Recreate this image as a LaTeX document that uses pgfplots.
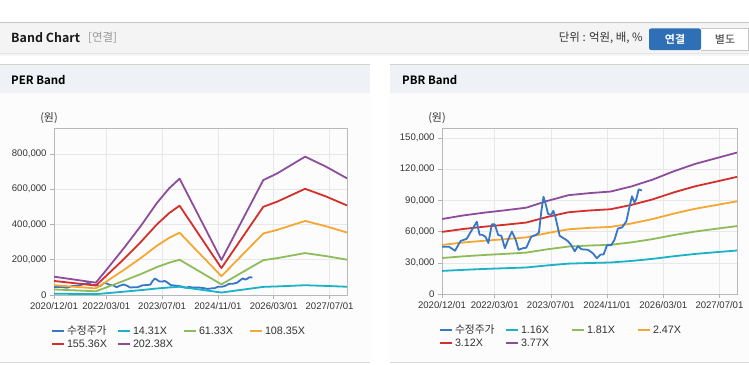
\documentclass[border=0pt]{standalone}
\usepackage{pgfplots}
\usepackage{pgfplotstable}
\pgfplotsset{compat=1.18}
\usepackage{fontspec}
\setmainfont{Liberation Sans}
\newfontfamily\kr[BoldFont={Noto Sans CJK KR Bold}]{Noto Sans CJK KR}

\definecolor{cprice}{RGB}{56,118,200}
\definecolor{ccyan}{RGB}{26,178,198}
\definecolor{cgreen}{RGB}{143,188,90}
\definecolor{corange}{RGB}{245,167,51}
\definecolor{cred}{RGB}{212,47,42}
\definecolor{cpurple}{RGB}{142,77,156}
\definecolor{hdrbg}{RGB}{244,244,244}
\definecolor{panelhdr}{RGB}{238,241,246}
\definecolor{panelbody}{RGB}{252,252,252}
\definecolor{btnblue}{RGB}{47,111,181}
\definecolor{txt}{RGB}{51,51,51}

% PER band (month index from 2020/12)
\pgfplotstableread{
m    p      r      o      g      c
0    104000 79800  55700  31500  7400
12   70000  53700  37500  21200  4900
15   142000 109000 76000  43000  10000
20   265000 203400 141900 80300  18700
25   395000 303200 211500 119700 27900
29.5 522000 400700 279500 158200 36900
33   605000 464500 323900 183300 42800
36   660000 506700 353400 200000 46700
48   199000 152800 106500 60300  14100
60   652000 500500 349100 197600 46100
64   690000 529700 369400 209100 48800
72   785000 602600 420300 237900 55500
78   728000 558900 389800 220600 51500
84   662000 508200 354400 200600 46800
}\perdata

% PBR band
\pgfplotstableread{
m  p      r      o     g     c
0  72100  59700  47200 34600 22200
6  75500  62500  49500 36200 23200
12 78200  64700  51200 37500 24100
18 80500  66600  52700 38600 24800
24 83000  68700  54400 39800 25500
30 89500  74100  58600 43000 27500
36 95000  78600  62200 45600 29200
42 97000  80300  63600 46600 29800
48 98500  81500  64500 47300 30300
54 103500 85700  67800 49700 31800
60 110000 91000  72100 52800 33800
66 118000 97700  77300 56700 36300
72 125000 103500 81900 60000 38500
78 130500 108000 85500 62700 40200
84 136000 112600 89100 65300 41800
}\pbrdata

% adjusted price
\pgfplotstableread{
m    v
0    45500
2    45500
3.7  41600
5.3  51000
7    53000
8.5  61500
9.9  69500
10.7 57000
11.4 57000
12.4 55000
13.2 49000
14.2 67000
15.0 67000
16.0 56700
16.9 56000
17.9 44000
18.8 52000
19.9 60000
21.0 52000
21.8 42500
23   44000
24   44500
25.4 55000
26.8 57000
27.6 59000
28.3 80000
28.9 93500
29.4 88000
30.2 77000
31.1 76000
31.7 80000
32.3 74000
33.5 56000
34.9 53000
35.8 51000
36.8 47000
37.8 41000
38.7 46000
39.7 43000
41.6 42500
43   39000
44.1 34300
45.2 38000
46   38000
47   47000
48.2 47000
49.1 52000
50.1 63000
51.3 64000
52.5 70000
53.4 84000
54.1 94000
54.8 88000
55.3 91000
56   100600
56.9 99500
}\pricedata

\pgfplotsset{
  bandaxis/.style={
    scale only axis, anchor=south west,
    xmin=0, xmax=84, ymin=0,
    xtick={0,15,31,47,63,79},
    xticklabels={2020/12/01,2022/03/01,2023/07/01,2024/11/01,2026/03/01,2027/07/01},
    tick pos=left, tick align=outside, major tick length=4bp,
    tick style={gray!60, line width=0.6bp},
    axis line style={gray!55, line width=0.8bp},
    grid=major, major grid style={gray!18, line width=0.6bp},
    tick label style={font=\fontsize{9.6}{11}\selectfont, text=txt},
    scaled y ticks=false,
    yticklabel style={/pgf/number format/.cd, fixed, 1000 sep={,}, assume math mode=true},
    every axis plot/.append style={line width=1.8bp, line join=round},
    legend columns=4,
    legend style={draw=none, fill=none, inner sep=0pt, outer sep=0pt,
      at={(axis description cs:0,0)}, anchor=north west, xshift=-3bp, yshift=-31bp,
      column sep=0bp, row sep=2.5bp,
      /tikz/every odd column/.append style={column sep=2bp},
      /tikz/every even column/.append style={column sep=2bp},
      font=\fontsize{10.8}{12}\selectfont,
      nodes={inner sep=0pt, text width=48bp, align=left, text height=8bp, text depth=2.5bp, text=txt}},
    legend image code/.code={\draw[#1, line width=2bp] (0bp,0bp) -- (12bp,0bp);},
  }
}

\begin{document}
\begin{tikzpicture}
\begin{scope}[x=1bp,y=1bp]
\useasboundingbox (0,0) rectangle (749,364);
\fill[white] (0,0) rectangle (749,364);
% top header
\fill[hdrbg] (0,364-52.5) rectangle (749,364-22.5);
\draw[gray!45, line width=1bp] (0,364-22.5) -- (749,364-22.5);
\fill[black!10] (0,364-54) rectangle (749,364-52.5);
\fill[black!4] (0,364-56) rectangle (749,364-54);
\node[anchor=west, inner sep=0, font=\kr\bfseries\fontsize{12.5}{14}\selectfont, text=black!90] at (11,364-38) {Band Chart};
\node[anchor=west, inner sep=0, font=\kr\fontsize{11.5}{13}\selectfont, text=gray!80] at (88,364-38) {[연결]};
\node[anchor=east, inner sep=0, font=\kr\fontsize{11.5}{13}\selectfont, text=txt] at (643,364-38) {단위 : 억원, 배, \%};
\fill[white] (701,364-50) rectangle (748.5,364-28.5);
\draw[gray!45, line width=0.8bp] (701,364-50) -- (748.5,364-50) -- (748.5,364-28.5) -- (701,364-28.5);
\fill[btnblue, rounded corners=2bp] (649,364-50) rectangle (701,364-28.5);
\node[font=\kr\bfseries\fontsize{11}{13}\selectfont, text=white] at (675,364-39) {연결};
\node[font=\kr\fontsize{11}{13}\selectfont, text=txt] at (725,364-39) {별도};
% panels
\foreach \xa/\xb in {0/370,390/749}{
  \fill[panelbody] (\xa,364-362.5) rectangle (\xb,364-93);
  \fill[panelhdr] (\xa,364-93) rectangle (\xb,364-64);
  \draw[gray!35, line width=1bp] (\xa,364-64) -- (\xb,364-64);
  \draw[gray!30, line width=1bp] (\xa,364-362.5) -- (\xb,364-362.5);
}
\node[anchor=west, inner sep=0, font=\kr\bfseries\fontsize{11.5}{13}\selectfont] at (11,364-80) {PER Band};
\node[anchor=west, inner sep=0, font=\kr\bfseries\fontsize{11.5}{13}\selectfont] at (402,364-80) {PBR Band};
\node[inner sep=0, font=\kr\fontsize{11}{12}\selectfont, text=txt] at (49,364-118) {(원)};
\node[inner sep=0, font=\kr\fontsize{11}{12}\selectfont, text=txt] at (437,364-118) {(원)};
\end{scope}

% PER axis
\begin{axis}[bandaxis, at={(54bp,69bp)}, width=293bp, height=167bp, ymax=947500,
  ytick={0,200000,400000,600000,800000}]
\addlegendimage{cprice}\addlegendentry{\kr 수정주가}
\addlegendimage{ccyan}\addlegendentry{14.31X}
\addlegendimage{cgreen}\addlegendentry{61.33X}
\addlegendimage{corange}\addlegendentry{108.35X}
\addlegendimage{cred}\addlegendentry{155.36X}
\addlegendimage{cpurple}\addlegendentry{202.38X}
\addplot[cprice, forget plot] table[x=m, y=v] {\pricedata};
\addplot[ccyan, forget plot] table[x=m, y=c] {\perdata};
\addplot[cgreen, forget plot] table[x=m, y=g] {\perdata};
\addplot[corange, forget plot] table[x=m, y=o] {\perdata};
\addplot[cred, forget plot] table[x=m, y=r] {\perdata};
\addplot[cpurple, forget plot] table[x=m, y=p] {\perdata};
\end{axis}

% PBR axis
\begin{axis}[bandaxis, at={(442bp,70bp)}, width=295bp, height=166bp, ymax=159600,
  ytick={0,30000,60000,90000,120000,150000}]
\addlegendimage{cprice}\addlegendentry{\kr 수정주가}
\addlegendimage{ccyan}\addlegendentry{1.16X}
\addlegendimage{cgreen}\addlegendentry{1.81X}
\addlegendimage{corange}\addlegendentry{2.47X}
\addlegendimage{cred}\addlegendentry{3.12X}
\addlegendimage{cpurple}\addlegendentry{3.77X}
\addplot[ccyan, forget plot] table[x=m, y=c] {\pbrdata};
\addplot[cgreen, forget plot] table[x=m, y=g] {\pbrdata};
\addplot[corange, forget plot] table[x=m, y=o] {\pbrdata};
\addplot[cred, forget plot] table[x=m, y=r] {\pbrdata};
\addplot[cpurple, forget plot] table[x=m, y=p] {\pbrdata};
\addplot[cprice, forget plot] table[x=m, y=v] {\pricedata};
\end{axis}
\end{tikzpicture}
\end{document}
